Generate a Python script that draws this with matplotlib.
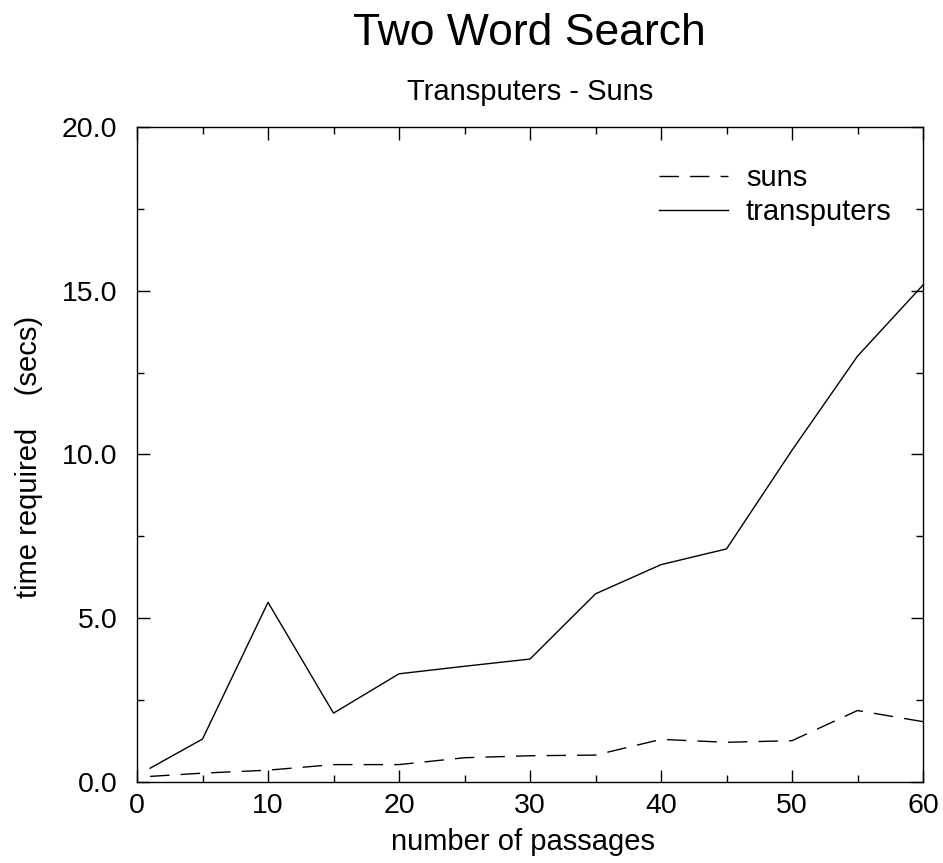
import matplotlib
matplotlib.use("Agg")
import matplotlib.pyplot as plt
from matplotlib.ticker import MultipleLocator, FormatStrFormatter

plt.rcParams["font.family"] = ["Liberation Sans", "DejaVu Sans"]

# data
passages = [1, 5, 10, 15, 20, 25, 30, 35, 40, 45, 50, 55, 60]
suns = [0.18, 0.28, 0.37, 0.54, 0.54, 0.75, 0.81, 0.83, 1.31, 1.22, 1.27, 2.19, 1.85]
transputers = [0.43, 1.32, 5.49, 2.11, 3.31, 3.54, 3.76, 5.75, 6.64, 7.12, 10.13, 13.0, 15.17]

fig = plt.figure(figsize=(9.43, 8.63), dpi=100)
ax = fig.add_axes([0.1453, 0.0935, 0.8335, 0.7597])

ax.plot(passages, suns, color="black", lw=1.0, dashes=(14, 8), label="suns")
ax.plot(passages, transputers, color="black", lw=1.0, label="transputers")

ax.set_xlim(0, 60)
ax.set_ylim(0, 20)
ax.xaxis.set_major_locator(MultipleLocator(10))
ax.xaxis.set_minor_locator(MultipleLocator(5))
ax.yaxis.set_major_locator(MultipleLocator(5))
ax.yaxis.set_minor_locator(MultipleLocator(2.5))
ax.yaxis.set_major_formatter(FormatStrFormatter("%.1f"))
ax.tick_params(which="both", direction="in", top=True, right=True, labelsize=20.5, width=1)
ax.tick_params(which="major", length=9)
ax.tick_params(which="minor", length=5)
ax.tick_params(axis="x", pad=8)
ax.tick_params(axis="y", pad=14)
for s in ax.spines.values():
    s.set_linewidth(1.0)

ax.set_xlabel("number of passages", fontsize=21, ha="center", va="baseline")
ax.xaxis.set_label_coords(0.491, -0.1033)
ax.set_ylabel("time required    (secs)", fontsize=21, ha="center", va="center")
ax.yaxis.set_label_coords(-0.137, 0.496)
ax.set_title("Transputers - Suns", fontsize=21, pad=19.4)
fig.text(0.561, 1 - 45 / 863, "Two Word Search", fontsize=32, ha="center", va="baseline")

ax.legend(loc="upper left", bbox_to_anchor=(0.664, 0.943), frameon=False, fontsize=21,
          handlelength=2.36, handletextpad=0.62, labelspacing=0.2,
          borderpad=0, borderaxespad=0)

fig.savefig("out.png", dpi=100)
